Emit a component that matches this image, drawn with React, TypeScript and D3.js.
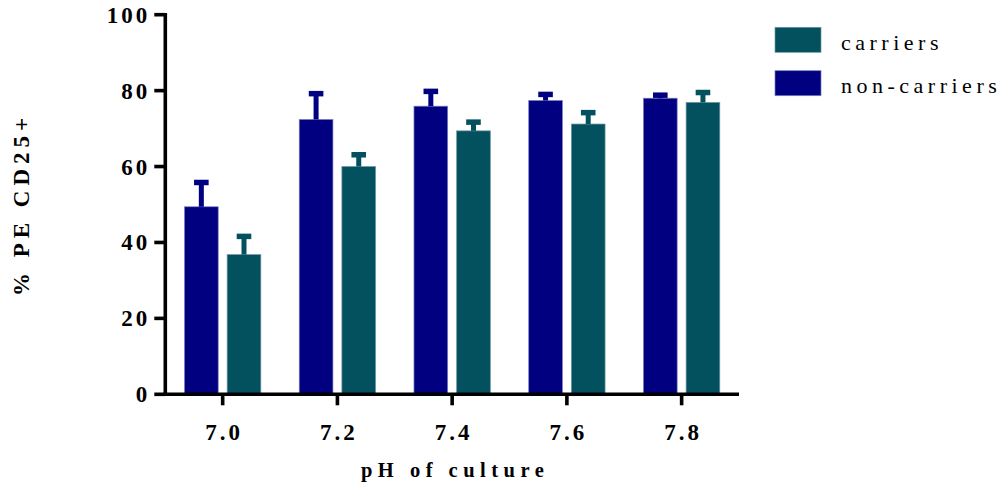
import React from "react";
import * as d3 from "d3";

// pH values of the culture (x categories)
const phLevels = ["7.0", "7.2", "7.4", "7.6", "7.8"];
// Series order inside each group
const seriesNames = ["non-carriers", "carriers"];
// Mean % PE CD25+ per pH
const nonCarriersMean = [49.4, 72.4, 75.9, 77.4, 78.0];
const carriersMean = [36.8, 60.0, 69.4, 71.2, 76.9];
// Upper error (SD) per pH
const nonCarriersErr = [6.4, 6.8, 3.9, 1.6, 0.8];
const carriersErr = [4.8, 3.1, 2.3, 3.0, 2.6];
// Y axis ticks
const yTicks = [0, 20, 40, 60, 80, 100];
// Legend entries, top to bottom
const legendOrder = ["carriers", "non-carriers"];

const colors: Record<string, string> = {
  "non-carriers": "#000080",
  carriers: "#03505F",
};
const edges: Record<string, string> = {
  "non-carriers": "#7a7fbf",
  carriers: "#6f98a3",
};

const W = 1000;
const H = 485;
const FONT = "'Liberation Serif', 'Times New Roman', serif";

export default function App() {
  const left = 165.3;
  const right = 739;
  const top = 14.7;
  const bottom = 394.3;

  const x0 = d3.scaleBand<string>().domain(phLevels).range([left, right]).padding(0);
  const x1 = d3
    .scaleBand<string>()
    .domain(seriesNames)
    .range([0, x0.bandwidth()])
    .paddingInner(0.21)
    .paddingOuter(0.45);
  const y = d3.scaleLinear().domain([0, 100]).range([bottom, top]);

  const rows = phLevels.map((ph, i) => ({
    ph,
    values: [
      { key: "non-carriers", mean: nonCarriersMean[i], err: nonCarriersErr[i] },
      { key: "carriers", mean: carriersMean[i], err: carriersErr[i] },
    ],
  }));

  const axisW = 3.6;

  return (
    <svg
      width={W}
      height={H}
      style={{ position: "absolute", left: 0, top: 0, background: "#fff" }}
    >
      {/* bars with error bars */}
      {rows.map((r) => (
        <g key={r.ph} transform={`translate(${x0(r.ph)},0)`}>
          {r.values.map((v) => {
            const bx = x1(v.key)!;
            const bw = x1.bandwidth();
            const cx = bx + bw / 2;
            const yTop = y(v.mean);
            const yErr = y(v.mean + v.err);
            return (
              <g key={v.key}>
                <rect
                  x={bx}
                  y={yTop}
                  width={bw}
                  height={bottom - yTop}
                  fill={colors[v.key]}
                  stroke={edges[v.key]}
                  strokeWidth={0.7}
                />
                <line
                  x1={cx}
                  x2={cx}
                  y1={yTop}
                  y2={yErr}
                  stroke={colors[v.key]}
                  strokeWidth={5}
                />
                <line
                  x1={cx - 7.3}
                  x2={cx + 7.3}
                  y1={yErr}
                  y2={yErr}
                  stroke={colors[v.key]}
                  strokeWidth={5.5}
                />
              </g>
            );
          })}
        </g>
      ))}

      {/* y axis */}
      <line x1={left} x2={left} y1={top - axisW / 2} y2={bottom + axisW / 2} stroke="#000" strokeWidth={axisW} />
      {yTicks.map((t) => (
        <g key={t}>
          <line x1={left - 11} x2={left} y1={y(t)} y2={y(t)} stroke="#000" strokeWidth={axisW} />
          <text
            x={left - 15}
            y={y(t) + 8}
            textAnchor="end"
            fontFamily={FONT}
            fontWeight="bold"
            fontSize={23}
            letterSpacing={3}
            fill="#000"
          >
            {t}
          </text>
        </g>
      ))}

      {/* x axis */}
      <line x1={left - axisW / 2} x2={right} y1={bottom} y2={bottom} stroke="#000" strokeWidth={axisW} />
      {phLevels.map((ph) => {
        const cx = x0(ph)! + x0.bandwidth() / 2;
        return (
          <g key={ph}>
            <line x1={cx} x2={cx} y1={bottom} y2={bottom + 11} stroke="#000" strokeWidth={axisW} />
            <text
              x={cx + 1.5}
              y={439.5}
              textAnchor="middle"
              fontFamily={FONT}
              fontWeight="bold"
              fontSize={23}
              letterSpacing={3}
              fill="#000"
            >
              {ph}
            </text>
          </g>
        );
      })}

      {/* axis titles */}
      <text
        x={(left + right) / 2 + 3}
        y={477}
        textAnchor="middle"
        fontFamily={FONT}
        fontWeight="bold"
        fontSize={20.5}
        letterSpacing={5.5}
        fill="#000"
      >
        pH of culture
      </text>
      <text
        transform={`translate(29,${(top + bottom) / 2}) rotate(-90)`}
        textAnchor="middle"
        fontFamily={FONT}
        fontWeight="bold"
        fontSize={23}
        letterSpacing={5}
        fill="#000"
      >
        % PE CD25+
      </text>

      {/* legend */}
      {legendOrder.map((k, i) => (
        <g key={k} transform={`translate(775,${27.3 + i * 43.4})`}>
          <rect width={46} height={25} fill={colors[k]} stroke={edges[k]} strokeWidth={0.7} />
          <text
            x={66}
            y={22.7}
            fontFamily={FONT}
            fontSize={22}
            letterSpacing={4.5}
            fill="#000"
          >
            {k}
          </text>
        </g>
      ))}
    </svg>
  );
}
